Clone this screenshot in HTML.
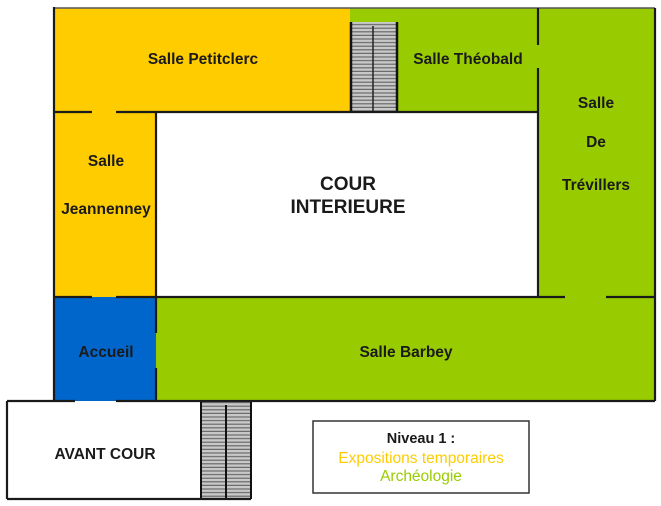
<!DOCTYPE html>
<html><head><meta charset="utf-8"><style>
html,body{margin:0;padding:0;background:#fff}
svg{display:block}
text{font-family:"Liberation Sans",Arial,sans-serif;font-weight:bold;font-size:15.5px;fill:#1a1a1a;text-anchor:middle}
</style></head><body>
<svg width="661" height="506" viewBox="0 0 661 506">
<defs>
<pattern id="st" width="10" height="3.6" patternUnits="userSpaceOnUse">
<rect width="10" height="3.6" fill="#c8c8c8"/><rect y="2.4" width="10" height="1.2" fill="#6a6a6a"/>
</pattern>
</defs>
<rect x="54" y="8" width="296" height="104" fill="#ffcc00"/>
<rect x="350" y="8" width="305" height="104" fill="#99cc00"/>
<rect x="538" y="8" width="117" height="289" fill="#99cc00"/>
<rect x="54" y="112" width="102" height="185" fill="#ffcc00"/>
<rect x="54" y="297" width="102" height="104" fill="#0066cc"/>
<rect x="156" y="297" width="499" height="104" fill="#99cc00"/>
<rect x="350" y="22" width="48" height="90" fill="url(#st)"/>
<g stroke="#111" stroke-width="2.5"><line x1="351" y1="22" x2="351" y2="112"/><line x1="397" y1="22" x2="397" y2="112"/></g>
<line x1="373" y1="26" x2="373" y2="112" stroke="#222" stroke-width="1.5"/>
<rect x="201" y="401" width="50" height="98" fill="url(#st)"/>
<g stroke="#111" stroke-width="2"><line x1="201" y1="401" x2="201" y2="499"/><line x1="251" y1="401" x2="251" y2="499"/><line x1="226" y1="405" x2="226" y2="499"/></g>
<g stroke="#1a1a1a" stroke-width="2.2" fill="none">
<line x1="54" y1="8" x2="655" y2="8" stroke="#555" stroke-width="1.5"/>
<line x1="54" y1="7" x2="54" y2="401"/>
<line x1="655" y1="8" x2="655" y2="401"/>
<line x1="54" y1="112" x2="92" y2="112"/><line x1="116" y1="112" x2="538" y2="112"/>
<line x1="156" y1="112" x2="156" y2="297"/>
<line x1="538" y1="8" x2="538" y2="45"/><line x1="538" y1="68" x2="538" y2="297"/>
<line x1="156" y1="297" x2="565" y2="297"/><line x1="606" y1="297" x2="655" y2="297"/>
<line x1="54" y1="297" x2="92" y2="297"/><line x1="116" y1="297" x2="156" y2="297"/>
<line x1="156" y1="297" x2="156" y2="333"/><line x1="156" y1="368" x2="156" y2="401"/>
<line x1="54" y1="401" x2="75" y2="401"/><line x1="116" y1="401" x2="655" y2="401"/>
<line x1="7" y1="401" x2="54" y2="401"/>
<line x1="7" y1="401" x2="7" y2="499"/>
<line x1="7" y1="499" x2="251" y2="499"/>
</g>
<rect x="313" y="421" width="216" height="72" fill="#fff" stroke="#333" stroke-width="1.5"/>
<text x="203" y="64">Salle Petitclerc</text>
<text x="468" y="64">Salle Théobald</text>
<text x="596" y="108">Salle</text>
<text x="596" y="147">De</text>
<text x="596" y="190">Trévillers</text>
<text x="106" y="166">Salle</text>
<text x="106" y="214">Jeannenney</text>
<text x="348" y="190" style="font-size:19px">COUR</text>
<text x="348" y="213" style="font-size:19px">INTERIEURE</text>
<text x="106" y="357">Accueil</text>
<text x="406" y="357">Salle Barbey</text>
<text x="105" y="459">AVANT COUR</text>
<text x="421" y="443" style="font-size:14.5px">Niveau 1 :</text>
<text x="421" y="463" style="font-weight:normal;fill:#ffcc00">Expositions temporaires</text>
<text x="421" y="481" style="font-weight:normal;fill:#99cc00">Archéologie</text>
</svg>
</body></html>
